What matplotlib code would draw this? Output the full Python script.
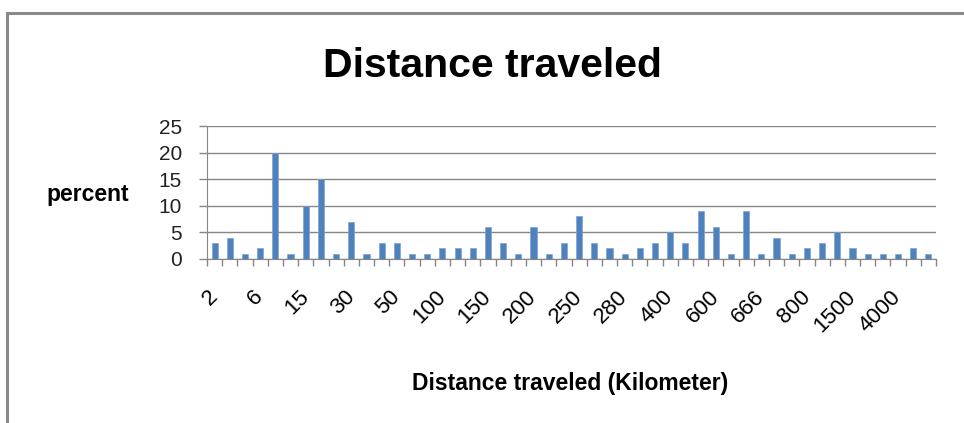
import numpy as np
import matplotlib
matplotlib.use("Agg")
import matplotlib.pyplot as plt
from matplotlib.patches import Rectangle

# Data ........................................................................

percent = [3, 4, 1, 2, 20, 1, 10, 15, 1, 7, 1, 3, 3, 1, 1, 2,
           2, 2, 6, 3, 1, 6, 1, 3, 8, 3, 2, 1, 2, 3, 5, 3,
           9, 6, 1, 9, 1, 4, 1, 2, 3, 5, 2, 1, 1, 1, 2, 1]

# only every third category is labelled on the axis
tick_labels = ["2", "6", "15", "30", "50", "100", "150", "200",
               "250", "280", "400", "600", "666", "800", "1500", "4000"]

plt.rcParams['font.family'] = ['Liberation Sans', 'DejaVu Sans']

grey = "#868686"
blue = "#4F81BD"

# Figure ......................................................................

fig = plt.figure(figsize = (9.64, 4.23), dpi = 100)
ax = fig.add_axes([207 / 964, 1 - 259 / 423, 729 / 964, 133 / 423])

x = np.arange(len(percent))
ax.bar(x, percent, width = 0.4, color = blue, edgecolor = "#7ea3d3", linewidth = 0.5, zorder = 3)

ax.set_xlim(-0.5, len(percent) - 0.5)
ax.set_ylim(0, 25)
ax.set_yticks(np.arange(0, 26, 5))
ax.grid(axis = "y", color = grey, linewidth = 1.0, zorder = 0)

# tick marks between categories, labels under every third bar
ax.set_xticks(np.arange(-0.5, len(percent), 1), minor = True)
ax.set_xticks(x[::3])
ax.set_xticklabels(tick_labels, rotation = 45, ha = "right", va = "center",
                   rotation_mode = "anchor")
ax.tick_params(axis = "x", which = "major", length = 0, pad = 25, labelsize = 16)
ax.tick_params(axis = "x", which = "minor", length = 5, color = grey, width = 1)
ax.tick_params(axis = "y", length = 6, color = grey, width = 1, labelsize = 15, pad = 12,
               labelcolor = "#222222")

for side in ["top", "right"]:
    ax.spines[side].set_visible(False)
ax.spines["left"].set_color(grey)
ax.spines["bottom"].set_color(grey)

# Texts .......................................................................

fig.text(492 / 964, 1 - 77 / 423, "Distance traveled", ha = "center", va = "baseline",
         fontsize = 29.5, fontweight = "bold")
fig.text(88 / 964, 1 - 194 / 423, "percent", ha = "center", va = "center",
         fontsize = 16.5, fontweight = "bold")
fig.text(570 / 964, 1 - 383 / 423, "Distance traveled (Kilometer)", ha = "center", va = "center",
         fontsize = 16.5, fontweight = "bold")

# chart border
fig.patches.append(Rectangle((7 / 964, -0.05), 1.2, 1.05 - 13 / 423, transform = fig.transFigure,
                             fill = False, edgecolor = "#8a8a8a", linewidth = 2.2))

fig.savefig("out.png", dpi = 100)
